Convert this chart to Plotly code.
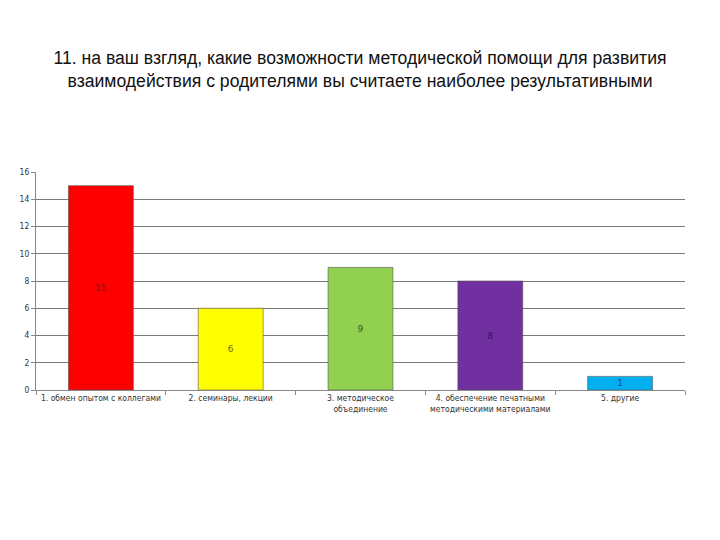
import plotly.graph_objects as go

categories = [
    "1. обмен опытом с коллегами",
    "2. семинары, лекции",
    "3. методическое<br>объединение",
    "4. обеспечение печатными<br>методическими материалами",
    "5. другие",
]
values = [15, 6, 9, 8, 1]
bar_colors = ["#FF0000", "#FFFF00", "#92D050", "#7030A0", "#00B0F0"]
text_colors = ["#8B1010", "#6B6B00", "#2F5A10", "#3A1060", "#10507A"]
y_ticks = [0, 2, 4, 6, 8, 10, 12, 14, 16]
title_text = ("11. на ваш взгляд, какие возможности методической помощи для развития<br>"
              "взаимодействия с родителями вы считаете наиболее результативными")

fig = go.Figure(go.Bar(
    x=categories,
    y=values,
    marker=dict(color=bar_colors, line=dict(color="#555555", width=0.6)),
    text=[str(v) for v in values],
    textposition="inside",
    insidetextanchor="middle",
    textfont=dict(color=text_colors, size=9, family="DejaVu Sans"),
    textangle=0,
))

fig.update_layout(
    width=720, height=540,
    margin=dict(l=23, r=43, t=164, b=158),
    paper_bgcolor="white", plot_bgcolor="white",
    bargap=0.5,
    showlegend=False,
    uniformtext=dict(minsize=9, mode="show"),
    title=dict(
        text=title_text,
        x=352 / 720, xanchor="center",
        y=1 - 56 / 540, yanchor="middle",
        font=dict(family="Liberation Sans Narrow, Liberation Sans, Arial", size=17.6, color="#111111"),
    ),
    font=dict(family="DejaVu Sans Condensed, DejaVu Sans", size=8.5, color="#333333"),
)

fig.update_xaxes(
    type="category",
    showline=True, linecolor="#888888", linewidth=1,
    ticks="outside", ticklen=4, tickcolor="#888888",
    tickson="boundaries",
    tickangle=0,
    showgrid=False,
    tickfont=dict(size=8.5, color="#333333"),
)
fig.update_yaxes(
    range=[0, 16],
    tickvals=y_ticks,
    showline=True, linecolor="#888888", linewidth=1,
    ticks="outside", ticklen=4, tickcolor="#888888",
    showgrid=True, gridcolor="#7a7a7a", gridwidth=1,
    zeroline=False,
    tickfont=dict(size=8.5, color="#333333"),
)

fig.write_html("out.html")
